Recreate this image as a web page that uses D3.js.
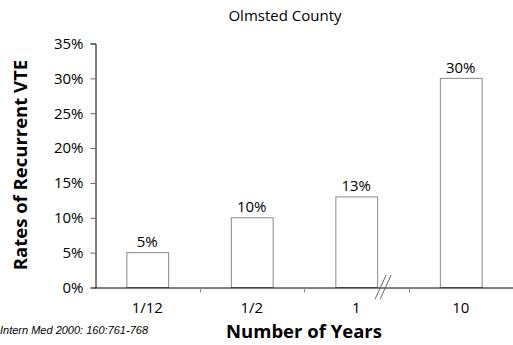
<!DOCTYPE html>
<html>
<head>
    <meta charset="utf-8">
    <title>Olmsted County</title>
    <script src="https://cdn.jsdelivr.net/npm/d3@7"></script>
    <style>
        body { margin: 0; background: #fff; }
        text { font-family: "Open Sans", "Noto Sans", sans-serif; fill: #000; }
    </style>
</head>
<body>
    <script>
        var years = ['1/12', '1/2', '1', '10'];
        var rates = [0.05, 0.10, 0.13, 0.30];
        var yTicks = [0, 0.05, 0.10, 0.15, 0.20, 0.25, 0.30, 0.35];

        var width = 513;
        var height = 345;
        var plotLeft = 95, plotRight = 513, plotTop = 43, plotBottom = 287;

        var svg = d3.select('body').append('svg')
            .attr('width', width)
            .attr('height', height);

        var xScale = d3.scaleBand()
            .domain(years)
            .range([plotLeft, plotRight])
            .paddingInner(0.6)
            .paddingOuter(0.3);

        var yScale = d3.scaleLinear()
            .domain([0, 0.35])
            .range([plotBottom, plotTop]);

        // bars
        svg.selectAll('rect.bar')
            .data(years)
            .enter()
            .append('rect')
            .attr('class', 'bar')
            .attr('x', function(d) { return xScale(d) + 0.5; })
            .attr('y', function(d, i) { return yScale(rates[i]) + 0.5; })
            .attr('width', xScale.bandwidth())
            .attr('height', function(d, i) { return plotBottom - yScale(rates[i]); })
            .attr('fill', '#fff')
            .attr('stroke', '#8a8a8a')
            .attr('stroke-width', 1);

        // value labels
        svg.selectAll('text.val')
            .data(years)
            .enter()
            .append('text')
            .attr('class', 'val')
            .attr('x', function(d) { return xScale(d) + xScale.bandwidth() / 2; })
            .attr('y', function(d, i) { return yScale(rates[i]) - 5; })
            .attr('text-anchor', 'middle')
            .style('font-size', '15px')
            .text(function(d, i) { return d3.format('.0%')(rates[i]); });

        // y axis
        var yAxis = svg.append('g')
            .attr('transform', 'translate(' + (plotLeft + 0.5) + ',0.5)')
            .call(d3.axisLeft(yScale).tickValues(yTicks).tickFormat(d3.format('.0%')).tickSize(5).tickPadding(7));
        yAxis.select('.domain').attr('stroke', '#000');
        yAxis.selectAll('.tick line').attr('stroke', '#666');
        yAxis.selectAll('.tick text').style('font-size', '15px').attr('fill', '#000');

        // x axis, ticks sit between categories
        var step = xScale.step();
        var bounds = years.map(function(d) { return xScale(d) + xScale.bandwidth() + step * xScale.paddingOuter(); });
        bounds.pop();
        var xAxis = svg.append('g')
            .attr('transform', 'translate(0,' + (plotBottom + 0.5) + ')')
            .call(d3.axisBottom(xScale).tickSize(0).tickPadding(15));
        xAxis.select('.domain').attr('stroke', '#000');
        xAxis.selectAll('.tick text').style('font-size', '15px').attr('fill', '#000');
        xAxis.selectAll('line.sep')
            .data(bounds)
            .enter()
            .append('line')
            .attr('class', 'sep')
            .attr('x1', function(d) { return Math.round(d) + 0.5; })
            .attr('x2', function(d) { return Math.round(d) + 0.5; })
            .attr('y1', 0)
            .attr('y2', 5)
            .attr('stroke', '#888');

        // axis break marks after the "1" bar
        var bx = xScale('1') + xScale.bandwidth() + 3;
        [0, 5].forEach(function(off) {
            svg.append('line')
                .attr('x1', bx + off - 5).attr('y1', plotBottom + 12)
                .attr('x2', bx + off + 6).attr('y2', plotBottom - 12)
                .attr('stroke', '#666')
                .attr('stroke-width', 1);
        });

        // titles
        svg.append('text')
            .attr('x', 285)
            .attr('y', 21)
            .attr('text-anchor', 'middle')
            .style('font-size', '15px')
            .text('Olmsted County');

        svg.append('text')
            .attr('x', (plotLeft + plotRight) / 2)
            .attr('y', 338)
            .attr('text-anchor', 'middle')
            .style('font-size', '18.5px')
            .style('font-weight', 'bold')
            .text('Number of Years');

        svg.append('text')
            .attr('transform', 'translate(27,' + (plotTop + plotBottom) / 2 + ') rotate(-90)')
            .attr('text-anchor', 'middle')
            .style('font-size', '18.5px')
            .style('font-weight', 'bold')
            .text('Rates of Recurrent VTE');

        svg.append('text')
            .attr('x', 0)
            .attr('y', 334)
            .style('font-family', 'Arial, "Liberation Sans", sans-serif')
            .style('font-size', '11px')
            .style('font-style', 'italic')
            .attr('fill', '#333')
            .text('Intern Med 2000: 160:761-768');
    </script>
</body>
</html>
